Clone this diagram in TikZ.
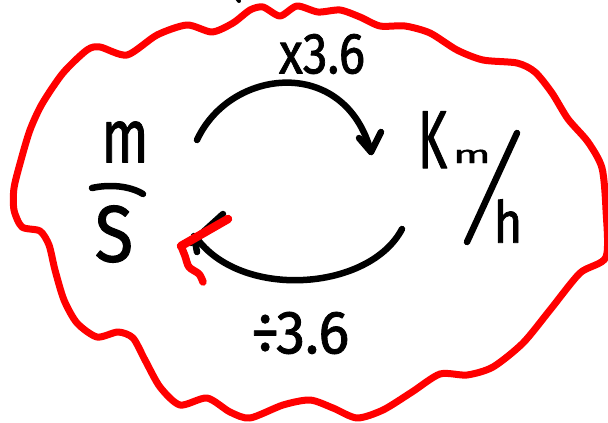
\documentclass[tikz,border=0pt]{standalone}
\usepackage{fontspec}
\setmainfont{Fira Sans}
\newfontfamily\hwfont{Fira Sans}[FakeBold=1.4]
\usepackage{graphicx}
\begin{document}
\begin{tikzpicture}[x=1pt,y=-1pt,line cap=round,line join=round]
\tikzset{
  redline/.style={draw=red,line width=7pt},
  ink/.style={draw=black,line width=6.5pt},
  hw/.style={inner sep=0pt,outer sep=0pt,font=\hwfont}
}
\useasboundingbox (0,0) rectangle (608,423);
\fill[white] (0,0) rectangle (608,423);
% cloud
\draw[redline] plot[smooth cycle,tension=0.45] coordinates {
(250,10) (263,7) (280,16) (297,6) (318,12) (340,10) (360,17) (380,26) (405,26)
(430,33) (457,50) (483,60) (517,63) (535,72) (552,93) (568,119) (588,142)
(602,168) (606,210) (606,257) (580,273) (550,310) (523,343) (493,367) (467,375)
(440,374) (412,392) (383,410) (357,418) (333,408) (310,400) (283,405) (250,418)
(230,412) (207,398) (180,405) (160,387) (145,360) (133,338) (118,332) (97,337)
(77,323) (64,300) (55,270) (49,245) (40,231) (22,227) (14,210) (14,188) (21,160)
(30,130) (42,104) (63,73) (87,50) (100,47) (127,55) (157,35) (187,25) (212,32) (233,23)};
\draw[ink,line width=4pt] (236,-3) -- (239,1);
% texts
\node[hw] (times) at (322,54) {\fontsize{58}{58}\selectfont\scalebox{0.85}[1]{x3.6}};
\node[hw] (div) at (300,333) {\fontsize{61}{61}\selectfont\scalebox{0.95}[1]{÷3.6}};
\node[hw] (m) at (125,142) {\fontsize{55}{55}\selectfont\scalebox{1}[1.38]{m}};
\node[hw] (s) at (114,234) {\fontsize{80}{80}\selectfont\scalebox{0.88}[1]{S}};
\node[hw,anchor=base west] (km) at (418,168) {\fontsize{82}{82}\selectfont\scalebox{0.6}[1]{K}\hspace{6pt}\raisebox{5pt}{\fontsize{26}{26}\selectfont\scalebox{1.7}[0.95]{m}}};
\node[hw] (h) at (508,221) {\fontsize{58}{58}\selectfont\scalebox{0.85}[1]{h}};
% fraction bars
\coordinate (fb1) at (92,188); \coordinate (fb2) at (143,194);
\draw[ink] (fb1) .. controls (110,184) and (130,186) .. (fb2);
\coordinate (sl1) at (517,133); \coordinate (sl2) at (467,242);
\draw[ink] (sl1) -- (sl2);
% top arc
\coordinate (t0) at (197,140); \coordinate (t1) at (371,152);
\draw[ink] (t0) .. controls (230,68) and (345,55) .. (t1);
\draw[ink] (359,138) -- (t1) -- (381,132);
% bottom arc
\coordinate (b0) at (402,229); \coordinate (b1) at (198,240);
\draw[ink] (b0) .. controls (370,290) and (245,300) .. (b1);
\draw[ink] (223,214) -- (191,243);
\draw[ink] (194,236) -- (197,252);
\draw[draw=red,line width=8.5pt] (228,219) -- (181,246);
\draw[draw=red,line width=7.5pt] plot[smooth] coordinates {(181,246) (185,256) (189,267) (199,274) (203,282)};
\end{tikzpicture}
\end{document}
